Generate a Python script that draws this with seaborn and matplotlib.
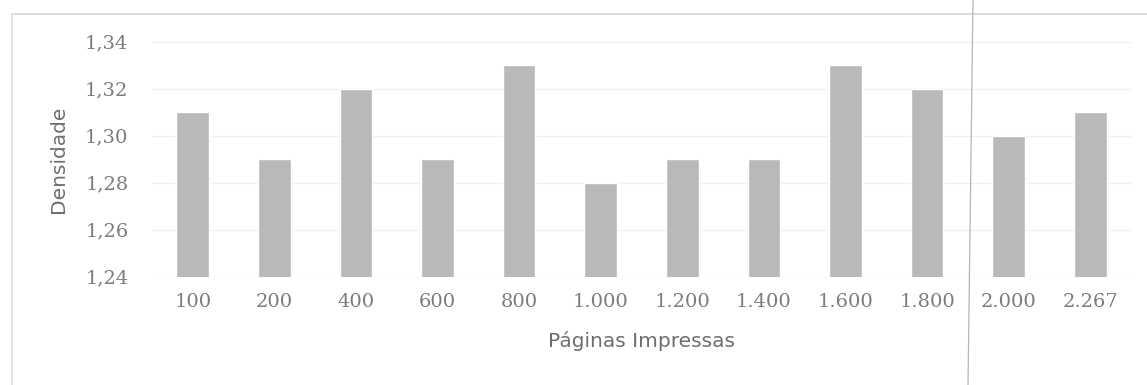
import matplotlib
matplotlib.use("Agg")
import matplotlib.pyplot as plt
from matplotlib.lines import Line2D
from matplotlib.ticker import FuncFormatter
import seaborn as sns
import pandas as pd

# Pages printed and measured density
paginas = ["100", "200", "400", "600", "800", "1.000", "1.200", "1.400",
           "1.600", "1.800", "2.000", "2.267"]
densidade = [1.31, 1.29, 1.32, 1.29, 1.33, 1.28, 1.29, 1.29, 1.33, 1.32, 1.30, 1.31]
y_ticks = [1.24, 1.26, 1.28, 1.30, 1.32, 1.34]

df = pd.DataFrame({"Paginas": paginas, "Densidade": densidade})

sns.set_theme(style="white")
W, H = 1147, 385
fig = plt.figure(figsize=(W / 100, H / 100), dpi=100)
ax = fig.add_axes([152 / W, 1 - 276.7 / H, (1131 - 152) / W, 235 / H])

sns.barplot(data=df, x="Paginas", y="Densidade", color="#b9b9b9",
            width=0.4, saturation=1, ax=ax)

ax.set_ylim(y_ticks[0], y_ticks[-1])
ax.set_xlim(-0.5, len(paginas) - 0.5)
ax.set_yticks(y_ticks)
ax.yaxis.set_major_formatter(FuncFormatter(lambda v, p: f"{v:.2f}".replace(".", ",")))
ax.grid(axis="y", color="#f0f0f0", linewidth=1)
ax.set_axisbelow(True)
for s in ax.spines.values():
    s.set_visible(False)

ax.tick_params(axis="both", length=0)
ax.tick_params(axis="y", pad=17)
ax.tick_params(axis="x", pad=12)
for lbl in ax.get_xticklabels() + ax.get_yticklabels():
    lbl.set_fontfamily("DejaVu Serif")
    lbl.set_fontsize(14)
    lbl.set_color("#7c7c7c")

ax.set_xlabel("Páginas Impressas", fontfamily="DejaVu Sans", fontsize=14.5,
              color="#6e6e6e", labelpad=14)
ax.set_ylabel("Densidade", fontfamily="DejaVu Sans", fontsize=14.5,
              color="#6e6e6e", labelpad=12)

# Outer chart frame (top and left edges) and the thin vertical rule
fig.add_artist(Line2D([12 / W, 1], [1 - 14 / H, 1 - 14 / H],
                      transform=fig.transFigure, color="#d6d6d6", linewidth=1.2))
fig.add_artist(Line2D([12 / W, 12 / W], [0, 1 - 14 / H],
                      transform=fig.transFigure, color="#e2e2e2", linewidth=1.2))
fig.add_artist(Line2D([973 / W, 968 / W], [1, 0], transform=fig.transFigure,
                      color="#b5b5b5", linewidth=0.9))

fig.savefig("out.png", dpi=100, facecolor="white")
